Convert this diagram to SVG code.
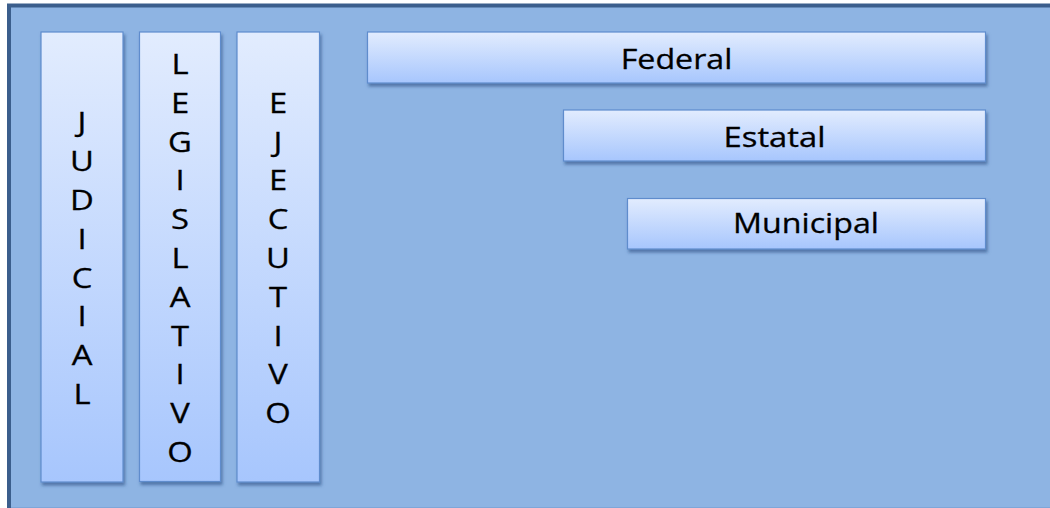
<svg xmlns="http://www.w3.org/2000/svg" width="1050" height="508" viewBox="0 0 1050 508">
  <defs>
    <linearGradient id="g" x1="0" y1="0" x2="0" y2="1">
      <stop offset="0" stop-color="#E2ECFE"/>
      <stop offset="1" stop-color="#A7C6FD"/>
    </linearGradient>
    <filter id="sh" x="-10%" y="-10%" width="130%" height="130%">
      <feDropShadow dx="1.5" dy="3" stdDeviation="1.5" flood-color="#23457A" flood-opacity="0.55"/>
    </filter>
  </defs>
  <style>
    .box { fill: url(#g); stroke: #5E8CCD; stroke-width: 1.2; filter: url(#sh); }
    .t { font-family: "Open Sans", "DejaVu Sans", sans-serif; font-size: 28px; fill: #000; stroke: #000; stroke-width: 0.3; text-anchor: middle; }
  </style>
  <rect x="0" y="0" width="1050" height="508" fill="#FFFFFF"/>
  <g id="background">
    <rect x="9" y="5.5" width="1050" height="510" fill="#8EB4E3" stroke="#3B5E8C" stroke-width="4"/>
    <line x1="11" y1="507.5" x2="1050" y2="507.5" stroke="#7FA6D8" stroke-width="1"/>
  </g>
  <g id="connectors"></g>
  <g id="judicial">
    <rect class="box" x="41" y="32" width="82" height="450"/>
    <g transform="translate(82,0) scale(1.17,1)">
      <text class="t" x="0" y="132.5">J</text>
      <text class="t" x="0" y="171.3">U</text>
      <text class="t" x="0" y="210.1">D</text>
      <text class="t" x="0" y="248.9">I</text>
      <text class="t" x="0" y="287.7">C</text>
      <text class="t" x="0" y="326.5">I</text>
      <text class="t" x="0" y="365.3">A</text>
      <text class="t" x="0" y="404.1">L</text>
    </g>
  </g>
  <g id="legislativo">
    <rect class="box" x="139.5" y="32" width="81" height="449.5"/>
    <g transform="translate(180,0) scale(1.17,1)">
      <text class="t" x="0" y="74">L</text>
      <text class="t" x="0" y="112.8">E</text>
      <text class="t" x="0" y="151.6">G</text>
      <text class="t" x="0" y="190.4">I</text>
      <text class="t" x="0" y="229.2">S</text>
      <text class="t" x="0" y="268">L</text>
      <text class="t" x="0" y="306.8">A</text>
      <text class="t" x="0" y="345.6">T</text>
      <text class="t" x="0" y="384.4">I</text>
      <text class="t" x="0" y="423.2">V</text>
      <text class="t" x="0" y="462">O</text>
    </g>
  </g>
  <g id="ejecutivo">
    <rect class="box" x="237" y="32" width="82.5" height="450"/>
    <g transform="translate(278,0) scale(1.17,1)">
      <text class="t" x="0" y="112.8">E</text>
      <text class="t" x="0" y="151.6">J</text>
      <text class="t" x="0" y="190.4">E</text>
      <text class="t" x="0" y="229.2">C</text>
      <text class="t" x="0" y="268">U</text>
      <text class="t" x="0" y="306.8">T</text>
      <text class="t" x="0" y="345.6">I</text>
      <text class="t" x="0" y="384.4">V</text>
      <text class="t" x="0" y="423.2">O</text>
    </g>
  </g>
  <g id="federal">
    <rect class="box" x="367.5" y="32" width="618" height="51"/>
    <g transform="translate(676.5,0) scale(1.15,1)">
      <text class="t" x="0" y="69">Federal</text>
    </g>
  </g>
  <g id="estatal">
    <rect class="box" x="563.5" y="110" width="422" height="51"/>
    <g transform="translate(774.5,0) scale(1.17,1)">
      <text class="t" x="0" y="146.7">Estatal</text>
    </g>
  </g>
  <g id="municipal">
    <rect class="box" x="627.5" y="198.5" width="358" height="50.5"/>
    <g transform="translate(806,0) scale(1.15,1)">
      <text class="t" x="0" y="233.3">Municipal</text>
    </g>
  </g>
</svg>
